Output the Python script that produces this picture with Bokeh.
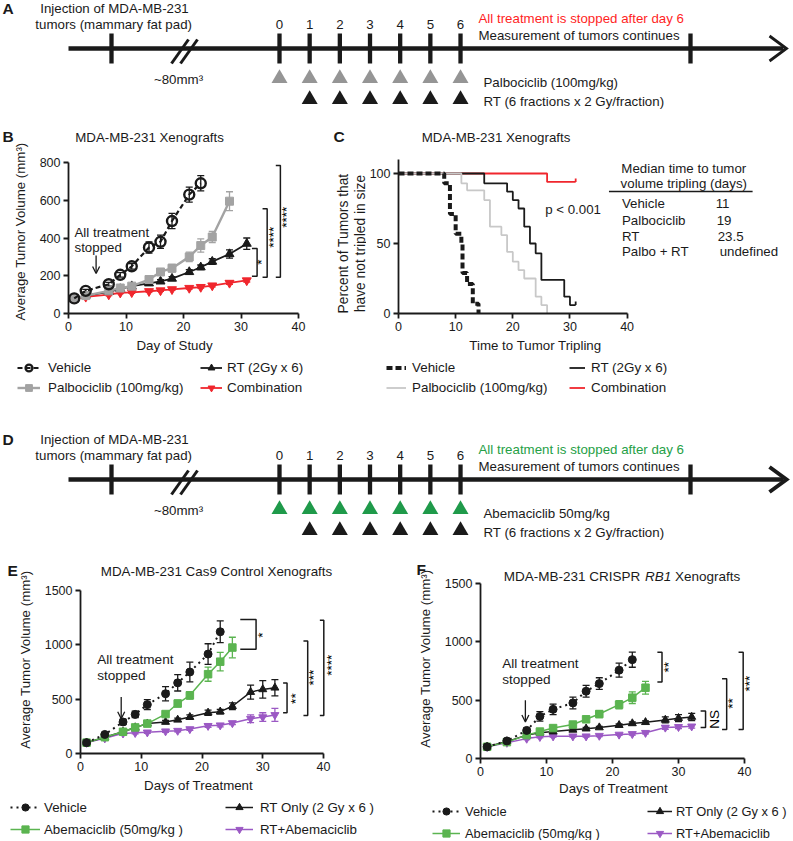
import math
from bokeh.plotting import figure
from bokeh.layouts import column, row
from bokeh.models import (Range1d, FixedTicker, Legend, LegendItem,
                          Whisker, TeeHead, Arrow, OpenHead, ColumnDataSource)
from bokeh.core.properties import value
from bokeh.embed import file_html
from bokeh.resources import INLINE

# ---------------- data ----------------
sched_days = [0, 1, 2, 3, 4, 5, 6]
cdk_days = [0, 1, 2, 3, 4, 5, 6]
rt_days = [1, 2, 3, 4, 5, 6]

b_labels = ["Vehicle", "Palbociclib (100mg/kg)", "RT (2Gy x 6)", "Combination"]
b_veh_day = [1, 3, 7, 9, 11, 14, 16, 18, 21, 23]
b_veh = [80, 120, 155, 205, 250, 350, 380, 490, 630, 690]
b_veh_err = [6, 8, 10, 12, 15, 30, 35, 40, 40, 40]
b_palbo_day = [1, 3, 7, 9, 11, 14, 16, 18, 21, 23, 25, 28]
b_palbo = [80, 95, 120, 135, 145, 180, 220, 240, 300, 360, 405, 595]
b_palbo_err = [5, 6, 8, 8, 10, 12, 15, 20, 25, 35, 30, 50]
b_rt_day = [1, 3, 7, 9, 11, 14, 16, 18, 21, 23, 25, 28, 31]
b_rt = [80, 95, 115, 130, 145, 160, 170, 185, 220, 245, 275, 315, 370]
b_rt_err = [5, 5, 6, 6, 8, 8, 10, 10, 12, 12, 15, 22, 30]
b_combo_day = [1, 3, 7, 9, 11, 14, 16, 18, 21, 23, 25, 28, 31]
b_combo = [80, 88, 100, 110, 112, 118, 122, 128, 135, 140, 148, 162, 175]
b_combo_err = [4, 4, 5, 5, 5, 5, 5, 6, 6, 6, 7, 8, 8]

c_veh_t = [0, 8, 9, 10, 11, 11.2, 12, 13, 14]
c_veh_s = [100, 93, 71, 57, 50, 29, 21, 7, 0]
c_palbo_t = [0, 11, 12, 15, 16, 18, 19, 20, 21, 22, 24, 25, 26]
c_palbo_s = [100, 93, 88, 81, 62, 56, 44, 37, 31, 25, 12, 6, 0]
c_rt_t = [0, 15, 19, 20, 21, 22, 23, 24, 25, 29, 30, 31]
c_rt_s = [100, 93, 87, 81, 75, 62, 50, 43, 24, 12, 6, 6]
c_combo_t = [0, 26, 31]
c_combo_s = [100, 94, 94]
median_groups = ["Vehicle", "Palbociclib", "RT", "Palbo + RT"]
median_values = ["11", "19", "23.5", "undefined"]

e_labels = ["Vehicle", "Abemaciclib (50mg/kg )", "RT Only (2 Gy x 6 )", "RT+Abemaciclib"]
ef_veh_day = [1, 4, 7, 9, 11, 14, 16, 18, 21, 23]
ef_abema_day = [1, 4, 7, 9, 11, 14, 16, 18, 21, 23, 25]
ef_rt_day = [1, 4, 7, 9, 11, 14, 16, 18, 21, 23, 25, 28, 30, 32]
e_veh = [100, 175, 290, 360, 450, 550, 650, 750, 915, 1120]
e_veh_err = [5, 15, 25, 30, 45, 65, 75, 90, 95, 100]
e_abema = [100, 150, 200, 240, 275, 363, 460, 535, 730, 845, 975]
e_abema_err = [5, 10, 15, 15, 15, 20, 30, 35, 65, 85, 95]
e_rt = [100, 150, 200, 240, 275, 290, 310, 335, 375, 385, 435, 565, 590, 605]
e_rt_err = [5, 10, 12, 15, 15, 15, 15, 20, 25, 20, 30, 65, 80, 75]
e_combo = [100, 140, 185, 190, 195, 205, 210, 225, 255, 260, 280, 320, 335, 355]
e_combo_err = [5, 8, 10, 10, 10, 10, 10, 12, 15, 15, 15, 35, 40, 60]

f_veh = [100, 150, 240, 360, 420, 475, 575, 640, 755, 845]
f_veh_err = [5, 15, 20, 40, 45, 50, 50, 50, 60, 65]
f_abema = [100, 140, 200, 230, 260, 290, 335, 380, 460, 520, 605]
f_abema_err = [5, 10, 10, 12, 15, 15, 20, 30, 35, 50, 55]
f_rt = [100, 145, 200, 220, 230, 245, 255, 265, 285, 300, 310, 330, 345, 355]
f_rt_err = [5, 8, 10, 10, 10, 10, 10, 10, 10, 12, 12, 25, 30, 30]
f_combo = [100, 135, 170, 185, 190, 190, 190, 195, 205, 210, 220, 265, 270, 275]
f_combo_err = [5, 8, 8, 8, 8, 8, 8, 8, 8, 10, 10, 15, 15, 15]

# ---------------- style ----------------
INK = "#1a1a1a"
RED = "#f0262d"
GRAY_B = "#a3a3a3"
GRAY_C = "#c8c8c8"
TRI_GRAY = "#959595"
GREEN_TL = "#1f9a4a"
GREEN = "#5bb450"
PURPLE = "#9b59c4"
FONT = "Liberation Sans"
FS = "13.3px"
FS_TICK = "12.5px"
FS_LEG = "13.4px"
W, H = 792, 840
NAN = float("nan")


def txt(p, x, y, text, size=FS, align="left", color=INK, style="normal", angle=0.0, ref=False):
    kw = dict(x_range_name="ref", y_range_name="ref") if ref else {}
    p.text(x=[x], y=[y], text=[text], text_font=value(FONT), text_font_size=value(size),
           text_align=align, text_baseline="middle", text_color=color,
           text_font_style=style, angle=angle, **kw)


def canvas(x1, y1, x2, y2):
    """A plain drawing area whose coordinates are the page's pixels."""
    p = figure(width=x2 - x1, height=y2 - y1, x_range=Range1d(x1, x2),
               y_range=Range1d(y2, y1), output_backend="svg", toolbar_location=None,
               x_axis_location=None, y_axis_location=None, min_border=0)
    p.outline_line_color = None
    p.grid.visible = False
    return p


# ---------------- timelines ----------------
T0, TW = 279.0, 30.17


def dx(xpx):
    return (xpx - T0) / TW


def timeline(y1, y2, off, tri_color, drug_label, stop_color, letter, head_w):
    p = figure(width=W, height=y2 - y1, x_range=Range1d(dx(0), dx(W)),
               y_range=Range1d(y2, y1), output_backend="svg", toolbar_location=None,
               x_axis_location=None, y_axis_location=None, min_border=0)
    p.outline_line_color = None
    p.grid.visible = False
    ly = 48 + off
    p.segment(x0=[dx(68)], y0=[ly], x1=[dx(783)], y1=[ly], line_width=4.5, line_color=INK)
    p.line(x=[dx(769), dx(786), dx(769)], y=[ly - 12.5, ly, ly + 12.5], line_width=head_w,
           line_color=INK, line_join="miter")
    tx = [dx(111)] + list(sched_days) + [dx(690)]
    p.segment(x0=tx, y0=[ly - 15] * len(tx), x1=tx, y1=[ly + 15] * len(tx),
              line_width=4.3, line_color=INK)
    p.segment(x0=[dx(171), dx(180)], y0=[ly + 15, ly + 15], x1=[dx(188), dx(197)],
              y1=[ly - 9, ly - 9], line_width=3, line_color=INK)
    p.scatter(x=cdk_days, y=[78 + off] * len(cdk_days), marker="triangle", size=16,
              fill_color=tri_color, line_color=None)
    p.scatter(x=rt_days, y=[99 + off] * len(rt_days), marker="triangle", size=16,
              fill_color=INK, line_color=None)
    p.text(x=sched_days, y=[24 + off] * len(sched_days), text=[str(d) for d in sched_days],
           text_font=value(FONT), text_font_size=value(FS), text_align="center",
           text_baseline="middle", text_color=INK)
    txt(p, dx(114), 8 + off, "Injection of MDA-MB-231", align="center")
    txt(p, dx(115), 24 + off, "tumors  (mammary fat pad)", align="center")
    txt(p, dx(178), 79 + off, "~80mm\u00b3", align="center")
    txt(p, dx(483), 82 + off, drug_label)
    txt(p, dx(483), 101 + off, "RT (6 fractions x 2 Gy/fraction)")
    txt(p, dx(478), 18 + off, "All treatment is stopped after day 6", color=stop_color)
    txt(p, dx(478), 35 + off, "Measurement of tumors continues")
    txt(p, dx(2), 8 + off, letter, size="15.5px", style="bold")
    return p


pA = timeline(0, 118, 0, TRI_GRAY, "Palbociclib (100mg/kg)", "#ff1f1f", "A", 2.8)
pD = timeline(400, 560, 431, GREEN_TL, "Abemaciclib 50mg/kg", "#25a046", "D", 4.0)


# ---------------- chart helpers ----------------
def chart(box, frame, xr, yr, xticks, yticks, xb, yb):
    bx1, by1, bx2, by2 = box
    fx1, fy1, fx2, fy2 = frame
    p = figure(width=bx2 - bx1, height=by2 - by1,
               x_range=Range1d(*xr), y_range=Range1d(*yr),
               output_backend="svg", toolbar_location=None,
               min_border_left=fx1 - bx1, min_border_right=bx2 - fx2,
               min_border_top=fy1 - by1, min_border_bottom=by2 - fy2)
    p.extra_x_ranges = {"ref": Range1d(fx1, fx2)}
    p.extra_y_ranges = {"ref": Range1d(fy2, fy1)}
    p.outline_line_color = None
    p.xgrid.visible = False
    p.ygrid.visible = False
    for ax in (p.xaxis[0], p.yaxis[0]):
        ax.axis_line_width = 1.8
        ax.axis_line_color = INK
        ax.major_tick_line_width = 1.8
        ax.major_tick_line_color = INK
        ax.major_tick_out = 5
        ax.major_tick_in = 0
        ax.minor_tick_line_color = None
        ax.major_label_text_font = FONT
        ax.major_label_text_font_size = FS_TICK
        ax.major_label_text_color = INK
    p.xaxis[0].ticker = FixedTicker(ticks=xticks)
    p.yaxis[0].ticker = FixedTicker(ticks=yticks)
    p.xaxis[0].bounds = xb
    p.yaxis[0].bounds = yb
    p.xaxis[0].major_label_standoff = 3
    p.yaxis[0].major_label_standoff = 3
    return p


def series(p, x, y, err, color, marker, size, lw=1.5, dash="solid", fill="same", mlw=1.0, cap=7):
    src = ColumnDataSource(dict(x=x, lo=[v - e for v, e in zip(y, err)],
                                hi=[v + e for v, e in zip(y, err)]))
    p.add_layout(Whisker(source=src, base="x", lower="lo", upper="hi", line_color=color,
                         line_width=1.3,
                         lower_head=TeeHead(size=cap, line_color=color, line_width=1.3),
                         upper_head=TeeHead(size=cap, line_color=color, line_width=1.3)))
    rl = p.line(x, y, line_color=color, line_width=lw, line_dash=dash)
    rm = p.scatter(x, y, marker=marker, size=size,
                   fill_color=(color if fill == "same" else fill),
                   line_color=color, line_width=mlw)
    return [rl, rm]


def bracket(p, xa, xv, y0, y1, text, tx, ty, size="13.5px"):
    p.line([xa, xv, xv, xa], [y1, y1, y0, y0], line_color=INK, line_width=1.5)
    txt(p, tx, ty, text, size=size, align="center", angle=math.pi / 2, color="#000000")


def proxy_series(p, color, marker, size, lw=1.5, dash="solid", fill="same", mlw=1.0):
    # legend-only renderers (a single missing value: nothing is drawn in the area)
    rl = p.line(x=[NAN], y=[NAN], line_color=color, line_width=lw, line_dash=dash)
    rm = p.scatter(x=[NAN], y=[NAN], marker=marker, size=size,
                   fill_color=(color if fill == "same" else fill),
                   line_color=color, line_width=mlw)
    return [rl, rm]


def add_legend(p, box_x1, box_y2, items, glyph_left, row2_y, gw, gh, spacing, standoff,
               size=FS_LEG):
    x = glyph_left - box_x1
    y = box_y2 - row2_y - gh / 2
    lg = Legend(items=[LegendItem(label=l, renderers=r) for l, r in items], location=(x, y),
                orientation="vertical", glyph_width=gw, glyph_height=gh, label_height=gh,
                label_standoff=standoff, spacing=spacing, padding=0, margin=0,
                border_line_color=None, background_fill_alpha=0,
                label_text_font=FONT, label_text_font_size=size, label_text_color=INK)
    p.add_layout(lg)


# ---------------- panel B / C band ----------------
ylabB = canvas(0, 118, 32, 338)
txt(ylabB, 2, 136, "B", size="15.5px", style="bold")
txt(ylabB, 20, 231, "Average Tumor Volume (mm\u00b3)", size=FS, align="center",
    angle=math.pi / 2)

topB = canvas(32, 118, 330, 150)
txt(topB, 137, 137, "MDA-MB-231 Xenografts", align="center")

pB = chart((32, 150, 330, 338), (68, 162, 298, 313), (0, 40), (0, 800), [0, 10, 20, 30, 40],
           [0, 200, 400, 600, 800], (0, 40), (0, 800))
rb_combo = series(pB, b_combo_day, b_combo, b_combo_err, RED, "inverted_triangle", 9, lw=1.8)
rb_rt = series(pB, b_rt_day, b_rt, b_rt_err, INK, "triangle", 9, lw=1.8)
rb_palbo = series(pB, b_palbo_day, b_palbo, b_palbo_err, GRAY_B, "square", 8, lw=2.4)
rb_veh = series(pB, b_veh_day, b_veh, b_veh_err, INK, "circle", 10, lw=2.2, dash="5 3",
                fill=None, mlw=2.4)
bracket(pB, 31.9, 32.8, 198, 345, "*", 33.6, 272)
bracket(pB, 33.75, 34.55, 192, 555, "****", 35.6, 404)
bracket(pB, 36.05, 36.85, 192, 784, "****", 37.9, 510)
pB.add_layout(Arrow(end=OpenHead(size=7, line_width=1.3, line_color=INK), x_start=4.8,
                    y_start=307, x_end=4.8, y_end=212, line_width=1.3, line_color=INK))
txt(pB, 74, 231.7, "All treatment", ref=True)
txt(pB, 74, 247.3, "stopped", ref=True)

ylabC = canvas(330, 118, 366, 338)
txt(ylabC, 333, 136, "C", size="15.5px", style="bold")
txt(ylabC, 343, 243, "Percent of Tumors that", size="13.8px", align="center", angle=math.pi / 2)
txt(ylabC, 359.5, 243, "have not tripled in size", size="13.8px", align="center",
    angle=math.pi / 2)

topC = canvas(366, 118, W, 150)
txt(topC, 472, 137, "MDA-MB-231 Xenografts", align="center")

pC = chart((366, 150, W, 338), (397, 159, 790, 313), (0, 393 / 5.73), (0, 110),
           [0, 10, 20, 30, 40], [0, 50, 100], (0, 40), (0, 110))
pC.step(c_combo_t, c_combo_s, mode="after", line_color=RED, line_width=1.8)
pC.step(c_rt_t, c_rt_s, mode="after", line_color=INK, line_width=1.8)
pC.step(c_palbo_t, c_palbo_s, mode="after", line_color=GRAY_C, line_width=1.8)
pC.step(c_veh_t, c_veh_s, mode="after", line_color=INK, line_width=4, line_dash="6 3")
pC.segment(x0=[c_rt_t[-1], c_combo_t[-1]], y0=[c_rt_s[-1], c_combo_s[-1]],
           x1=[c_rt_t[-1], c_combo_t[-1]], y1=[c_rt_s[-1] + 2.5, c_combo_s[-1] + 2.5],
           line_color=[INK, RED], line_width=1.8)
pC.segment(x0=[608], y0=[191], x1=[752], y1=[191], line_color=INK, line_width=1.5,
           x_range_name="ref", y_range_name="ref")
txt(pC, 683, 168, "Median time to tumor", align="center", ref=True)
txt(pC, 683, 183, "volume tripling (days)", align="center", ref=True)
for i, (g, v) in enumerate(zip(median_groups, median_values)):
    yy = [203, 220, 236, 251][i]
    txt(pC, 621, yy, g, ref=True)
    txt(pC, [715, 716, 717, 719][i], yy, v, ref=True)
txt(pC, 544, 209, "p < 0.001", ref=True)

botBC = canvas(0, 338, W, 400)
txt(botBC, 174, 344.5, "Day of Study", align="center")
txt(botBC, 535, 344.5, "Time to Tumor Tripling", align="center")
lb_veh = proxy_series(botBC, INK, "circle", 10, lw=2.2, dash="5 3", fill=None, mlw=2.4)
lb_palbo = proxy_series(botBC, GRAY_B, "square", 8, lw=2.4)
lb_rt = proxy_series(botBC, INK, "triangle", 9, lw=1.8)
lb_combo = proxy_series(botBC, RED, "inverted_triangle", 9, lw=1.8)
add_legend(botBC, 0, 400, [(b_labels[0], lb_veh), (b_labels[1], lb_palbo)], 17, 387, 23, 17, 3, 8)
add_legend(botBC, 0, 400, [(b_labels[2], lb_rt), (b_labels[3], lb_combo)], 200, 387, 22, 17, 3, 5)
lc_veh = [botBC.line(x=[NAN], y=[NAN], line_color=INK, line_width=4, line_dash="6 3")]
lc_palbo = [botBC.line(x=[NAN], y=[NAN], line_color=GRAY_C, line_width=1.8)]
lc_rt = [botBC.line(x=[NAN], y=[NAN], line_color=INK, line_width=1.8)]
lc_combo = [botBC.line(x=[NAN], y=[NAN], line_color=RED, line_width=1.8)]
add_legend(botBC, 0, 400, [(b_labels[0], lc_veh), (b_labels[1], lc_palbo)], 386, 387, 20, 17, 3, 6)
add_legend(botBC, 0, 400, [(b_labels[2], lc_rt), (b_labels[3], lc_combo)], 569, 387, 16, 17, 3, 6)

bandBC = column(row(ylabB, column(topB, pB, spacing=0), ylabC, column(topC, pC, spacing=0),
                    spacing=0), botBC, spacing=0)


# ---------------- panels E / F ----------------
def growth_panel(box, frame, xend, ytop, veh, veh_err, abema, abema_err, rt, rt_err,
                 combo, combo_err):
    p = chart(box, frame, (0, xend), (0, ytop), [0, 10, 20, 30, 40],
              [0, 500, 1000, 1500], (0, 40), (0, 1500))
    series(p, ef_rt_day, combo, combo_err, PURPLE, "inverted_triangle", 8, lw=1.5)
    series(p, ef_rt_day, rt, rt_err, INK, "triangle", 8, lw=1.5)
    series(p, ef_abema_day, abema, abema_err, GREEN, "square", 7.5, lw=1.5)
    series(p, ef_veh_day, veh, veh_err, INK, "circle", 8, lw=2, dash="2 4")
    return p


def growth_legend(p, box_x1, box_y2, left1, left2, row2, gw1, gw2, st1, st2, size):
    r_veh = proxy_series(p, INK, "circle", 8, lw=2, dash="2 4")
    r_abema = proxy_series(p, GREEN, "square", 7.5, lw=1.5)
    r_rt = proxy_series(p, INK, "triangle", 8, lw=1.5)
    r_combo = proxy_series(p, PURPLE, "inverted_triangle", 8, lw=1.5)
    add_legend(p, box_x1, box_y2, [(e_labels[0], r_veh), (e_labels[1], r_abema)],
               left1, row2, gw1, 18, 4, st1, size)
    add_legend(p, box_x1, box_y2, [(e_labels[2], r_rt), (e_labels[3], r_combo)],
               left2, row2, gw2, 18, 4, st2, size)


ylabE = canvas(0, 560, 40, 778)
txt(ylabE, 7, 571, "E", size="15.5px", style="bold")
txt(ylabE, 25, 672, "Average Tumor Volume (mm\u00b3)", size=FS, align="center",
    angle=math.pi / 2)
pE = growth_panel((40, 560, 400, 778), (80, 560, 345, 753), 265 / 6.075, (753 - 560) * 1500 / 163,
                  e_veh, e_veh_err, e_abema, e_abema_err, e_rt, e_rt_err, e_combo, e_combo_err)
bracket(pE, 26.3, 28.9, 960, 1233, "*", 30.0, 1090)
bracket(pE, 33.35, 34.0, 375, 649, "**", 35.4, 505)
bracket(pE, 36.7, 37.4, 350, 1036, "***", 38.4, 698)
bracket(pE, 39.4, 40.05, 350, 1227, "****", 41.3, 812)
pE.add_layout(Arrow(end=OpenHead(size=7, line_width=1.3, line_color=INK), x_start=6.7,
                    y_start=519, x_end=6.7, y_end=320, line_width=1.3, line_color=INK))
txt(pE, 96.7, 659.3, "All treatment", size="13.6px", ref=True)
txt(pE, 96.7, 675, "stopped", size="13.6px", ref=True)
txt(pE, 216, 571, "MDA-MB-231 Cas9 Control Xenografts", size="13.4px", align="center", ref=True)
botE = canvas(0, 778, 400, H)
txt(botE, 198, 785, "Days of Treatment", align="center")
growth_legend(botE, 0, H, 10, 225, 829, 30, 28, 4, 7, "13.3px")

ylabF = canvas(400, 560, 440, 782)
txt(ylabF, 416, 570, "F", size="15.5px", style="bold")
txt(ylabF, 425, 670, "Average Tumor Volume (mm\u00b3)", size=FS, align="center",
    angle=math.pi / 2)
pF = growth_panel((440, 560, W, 782), (480, 560, 760, 758), 280 / 6.6, (758 - 560) * 1500 / 175.5,
                  f_veh, f_veh_err, f_abema, f_abema_err, f_rt, f_rt_err, f_combo, f_combo_err)
bracket(pF, 26.8, 27.5, 653, 908, "**", 28.5, 780)
bracket(pF, 33.35, 34.1, 264, 405, "NS", 35.4, 335)
bracket(pF, 36.6, 37.3, 247, 682, "**", 38.2, 470)
bracket(pF, 39.1, 39.8, 247, 908, "***", 40.8, 640)
pF.add_layout(Arrow(end=OpenHead(size=7, line_width=1.3, line_color=INK), x_start=6.8,
                    y_start=497, x_end=6.8, y_end=312, line_width=1.3, line_color=INK))
txt(pF, 501.7, 663.3, "All treatment", size="13.6px", ref=True)
txt(pF, 501.7, 679.3, "stopped", size="13.6px", ref=True)
txt(pF, 503.3, 576, "MDA-MB-231 CRISPR", size="13.5px", ref=True)
txt(pF, 644.5, 576, "RB1", size="13.5px", style="italic", ref=True)
txt(pF, 674.5, 576, "Xenografts", size="13.5px", ref=True)
botF = canvas(400, 782, W, H)
txt(botF, 613, 788, "Days of Treatment", align="center")
growth_legend(botF, 400, H, 432, 647, 833, 28, 25, 5, 4, "12.9px")

bandEF = row(column(row(ylabE, pE, spacing=0), botE, spacing=0),
             column(row(ylabF, pF, spacing=0), botF, spacing=0), spacing=0)

layout = column(pA, bandBC, pD, bandEF, spacing=0)
open("out.html", "w").write(file_html(layout, INLINE))
